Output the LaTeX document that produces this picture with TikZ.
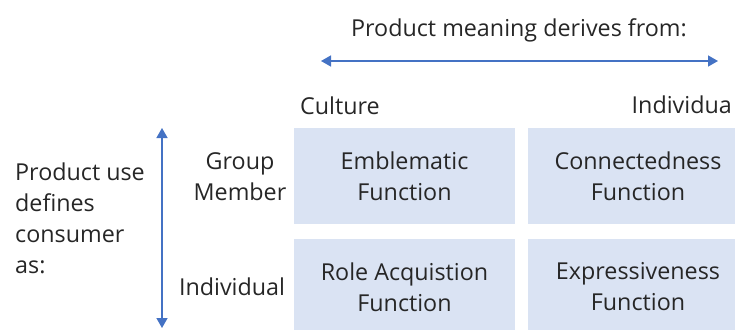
\documentclass[tikz,border=0pt]{standalone}
\usepackage{fontspec}
\setmainfont{Open Sans}
\usetikzlibrary{arrows.meta}
\definecolor{cellfill}{HTML}{DAE3F3}
\definecolor{axisblue}{HTML}{4472C4}
\definecolor{ink}{HTML}{262626}
\begin{document}
\begin{tikzpicture}[x=1pt,y=-1pt,
  every node/.style={text=ink, font=\fontsize{23.3}{31}\selectfont, inner sep=0pt},
  cell/.style={fill=cellfill, minimum width=221pt, minimum height=96pt, align=center},
  axis/.style={draw=axisblue, line width=1.4pt,
    {Triangle[length=10pt,width=11pt]}-{Triangle[length=10pt,width=11pt]}},
  lbl/.style={align=center}]
\useasboundingbox (0,0) rectangle (735,329);
% matrix of functions
\node[cell] (emb) at (404.5,176) {Emblematic\\Function};
\node[cell] (con) at (638,176) {Connectedness\\Function};
\node[cell] (role) at (404.5,287) {Role Acquistion\\Function};
\node[cell] (exp) at (638,287) {Expressiveness\\Function};
% horizontal axis
\node (hdr) at (519,30) {Product meaning derives from:};
\coordinate (hl) at (321,61);
\coordinate (hr) at (718,61);
\draw[axis] (hl) -- (hr);
\node[anchor=west] (cult) at (300,106) {Culture};
\node[anchor=east] (indv) at (732,105) {Individua};
% vertical axis
\coordinate (vt) at (162,128);
\coordinate (vb) at (162,328);
\draw[axis] (vt) -- (vb);
\node[lbl] (grp) at (240,177) {Group\\Member};
\node (ind) at (232,287) {Individual};
\node[align=left, anchor=north west] (use) at (15,163) {Product use\\defines\\consumer\\as:};
\end{tikzpicture}
\end{document}
